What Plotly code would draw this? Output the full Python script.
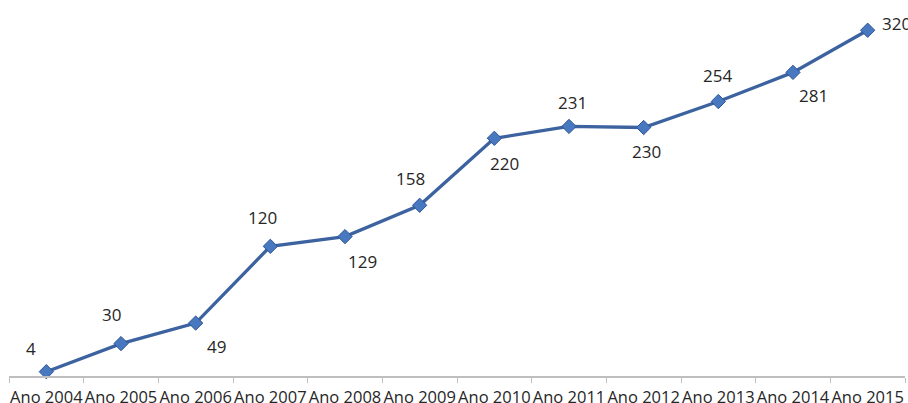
import plotly.graph_objects as go

categories = ["Ano 2004", "Ano 2005", "Ano 2006", "Ano 2007", "Ano 2008", "Ano 2009",
              "Ano 2010", "Ano 2011", "Ano 2012", "Ano 2013", "Ano 2014", "Ano 2015"]
values = [4, 30, 49, 120, 129, 158, 220, 231, 230, 254, 281, 320]

# label offsets in pixels (dx right, dy up) relative to each point
label_dx = [-15, -10, 21, -8, 17, -9, 10, 3, 3, -1, 20, 12]
label_dy = [23, 29, -23, 29, -25, 27, -25, 24, -24, 26, -23, 7]
label_anchor = ["center"] * 11 + ["left"]

fig = go.Figure()
fig.add_trace(go.Scatter(
    x=categories, y=values, mode="lines+markers",
    line=dict(color="#3C62A0", width=3.3),
    marker=dict(symbol="diamond", size=11, color="#4878C0",
                line=dict(color="#2F5597", width=1)),
    cliponaxis=False, hoverinfo="skip",
))

for c, v, dx, dy, a in zip(categories, values, label_dx, label_dy, label_anchor):
    fig.add_annotation(x=c, y=v, text=str(v), showarrow=False,
                       xshift=dx, yshift=dy, xanchor=a, yanchor="middle",
                       font=dict(family="Open Sans", size=17, color="#262626"))

fig.update_layout(
    width=908, height=403,
    margin=dict(l=9, r=3, t=0, b=27, autoexpand=False),
    paper_bgcolor="white", plot_bgcolor="white",
    showlegend=False,
    xaxis=dict(
        type="category", range=[-0.5, 11.5], tickson="boundaries",
        ticks="outside", ticklen=5, tickcolor="#BFBFBF", tickwidth=1,
        showline=True, linecolor="#BFBFBF", linewidth=1.5,
        showgrid=False, zeroline=False, automargin=False,
        tickfont=dict(family="Open Sans", size=16.5, color="#262626"),
        tickangle=0, ticklabelstandoff=5,
    ),
    yaxis=dict(range=[0, 348], visible=False, showgrid=False, zeroline=False),
)

fig.write_html("out.html", config={"displayModeBar": False},
               post_script="document.body.style.margin='0px';document.body.style.overflow='hidden';")
